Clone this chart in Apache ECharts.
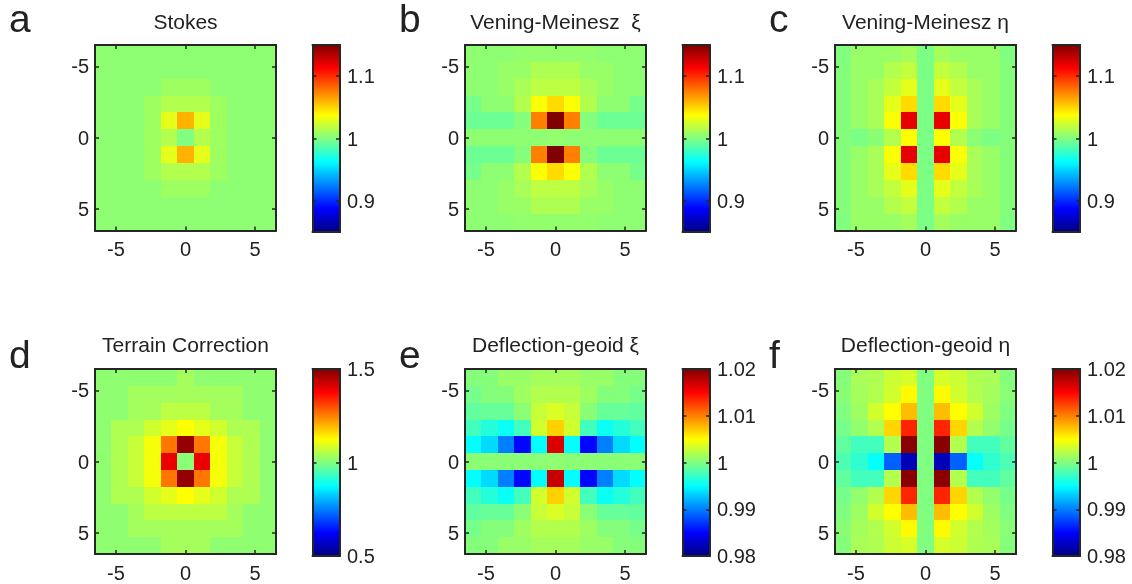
<!DOCTYPE html>
<html>
<head>
<meta charset="utf-8">
<style>html,body{margin:0;padding:0;background:#fff}#c{width:1132px;height:584px;filter:blur(0.45px)}</style>
<script src="https://cdn.jsdelivr.net/npm/echarts@6/dist/echarts.min.js"></script>
</head>
<body>
<div id="c"></div>
<script>
const cellCenters = [-5.91,-4.73,-3.55,-2.36,-1.18,0,1.18,2.36,3.55,4.73,5.91];
const axisTicks = [-5,0,5];
const jet = ['#000080','#0000ff','#0080ff','#00ffff','#80ff80','#ffff00','#ff8000','#ff0000','#800000'];

const titles = ['Stokes','Vening-Meinesz  \u03be','Vening-Meinesz \u03b7','Terrain Correction','Deflection-geoid \u03be','Deflection-geoid \u03b7'];
const letters = ['a','b','c','d','e','f'];
const rangesMin = [0.85,0.85,0.85,0.5,0.98,0.98];
const rangesMax = [1.15,1.15,1.15,1.5,1.02,1.02];
const barTicks123 = [0.9,1,1.1];
const barTicks4 = [0.5,1,1.5];
const barTicks56 = [0.98,0.99,1,1.01,1.02];

const B = 1.004;
const stokes = [
[B,B,B,B,B,B,B,B,B,B,B],
[B,B,B,B,B,B,B,B,B,B,B],
[B,B,B,B,1.009,1.009,1.009,B,B,B,B],
[B,B,B,1.009,1.015,1.015,1.015,1.009,B,B,B],
[B,B,B,1.009,1.03,1.06,1.03,1.009,B,B,B],
[B,B,B,1.009,1.015,1.0,1.015,1.009,B,B,B],
[B,B,B,1.009,1.03,1.06,1.03,1.009,B,B,B],
[B,B,B,1.009,1.015,1.015,1.015,1.009,B,B,B],
[B,B,B,B,1.009,1.009,1.009,B,B,B,B],
[B,B,B,B,B,B,B,B,B,B,B],
[B,B,B,B,B,B,B,B,B,B,B]];
const veningXi = [
[B,B,B,1.006,1.006,1.006,1.006,1.006,B,B,B],
[B,B,1.0075,1.0075,1.0135,1.0135,1.0135,1.0075,1.0075,B,B],
[B,B,1.0075,1.012,1.018,1.018,1.018,1.012,1.0075,B,B],
[0.997,B,B,1.015,1.036,1.048,1.036,1.015,B,B,0.997],
[0.994,0.994,0.994,1.0015,1.075,1.15,1.075,1.0015,0.994,0.994,0.994],
[B,B,B,B,B,1.006,B,B,B,B,B],
[0.994,0.994,0.994,1.0015,1.075,1.15,1.075,1.0015,0.994,0.994,0.994],
[0.997,B,B,1.015,1.036,1.048,1.036,1.015,B,B,0.997],
[B,B,1.0075,1.012,1.018,1.018,1.018,1.012,1.0075,B,B],
[B,B,1.0075,1.0075,1.0135,1.0135,1.0135,1.0075,1.0075,B,B],
[B,B,B,1.006,1.006,1.006,1.006,1.006,B,B,B]];
const veningEta = [
[1.0,1.0075,1.0075,1.0075,1.0105,0.9985,1.0105,1.0075,1.0075,1.0075,1.0],
[1.0015,1.0075,1.0075,1.015,1.0195,0.9985,1.0195,1.015,1.0075,1.0075,1.0015],
[1.0015,1.0075,1.012,1.0195,1.03,0.9985,1.03,1.0195,1.012,1.0075,1.0015],
[1.0015,1.0075,1.012,1.03,1.048,0.9985,1.048,1.03,1.012,1.0075,1.0015],
[1.0015,1.0075,1.012,1.036,1.12,0.9985,1.12,1.036,1.012,1.0075,1.0015],
[1.0015,0.9985,1.003,1.015,1.0375,0.9985,1.0375,1.015,1.003,0.9985,1.0015],
[1.0015,1.0075,1.012,1.036,1.12,0.9985,1.12,1.036,1.012,1.0075,1.0015],
[1.0015,1.0075,1.012,1.03,1.048,0.9985,1.048,1.03,1.012,1.0075,1.0015],
[1.0015,1.0075,1.012,1.0195,1.03,0.9985,1.03,1.0195,1.012,1.0075,1.0015],
[1.0015,1.0075,1.0075,1.015,1.0195,0.9985,1.0195,1.015,1.0075,1.0075,1.0015],
[1.0,1.0075,1.0075,1.0075,1.0105,0.9985,1.0105,1.0075,1.0075,1.0075,1.0]];
const terrain = [
[1.015,1.015,1.015,1.015,1.015,1.035,1.015,1.015,1.015,1.015,1.015],
[1.015,1.015,1.035,1.035,1.035,1.035,1.035,1.035,1.035,1.015,1.015],
[1.015,1.015,1.035,1.035,1.06,1.06,1.06,1.035,1.035,1.015,1.015],
[1.015,1.045,1.045,1.08,1.10,1.125,1.10,1.08,1.045,1.045,1.015],
[1.015,1.045,1.07,1.115,1.26,1.48,1.26,1.115,1.07,1.045,1.015],
[1.015,1.045,1.07,1.115,1.395,1.01,1.395,1.115,1.07,1.045,1.015],
[1.015,1.045,1.07,1.115,1.26,1.48,1.26,1.115,1.07,1.045,1.015],
[1.015,1.045,1.045,1.08,1.10,1.125,1.10,1.08,1.045,1.045,1.015],
[1.015,1.015,1.035,1.06,1.06,1.06,1.06,1.06,1.035,1.015,1.015],
[1.015,1.015,1.035,1.035,1.035,1.035,1.035,1.035,1.035,1.015,1.015],
[1.015,1.015,1.015,1.015,1.035,1.035,1.035,1.015,1.015,1.015,1.015]];
const deflXi = [
[1.0002,1.0002,1.001,1.001,1.0014,1.0014,1.0014,1.001,1.001,1.0002,1.0002],
[0.9996,1.0002,1.0002,1.0012,1.002,1.002,1.002,1.0012,1.0002,1.0002,0.9996],
[0.9988,0.999,0.999,1.0004,1.0028,1.0036,1.0028,1.0004,0.999,0.999,0.9988],
[0.9976,0.9964,0.9954,0.9976,1.0032,1.0068,1.0032,0.9976,0.9954,0.9964,0.9976],
[0.995,0.9936,0.99,0.9852,0.995,1.0164,0.995,0.9852,0.99,0.9936,0.995],
[1.0004,1.0004,1.0004,1.0004,1.0004,1.0006,1.0004,1.0004,1.0004,1.0004,1.0004],
[0.995,0.9936,0.99,0.9852,0.995,1.0172,0.995,0.9852,0.99,0.9936,0.995],
[0.9976,0.9964,0.9954,0.9976,1.0032,1.0068,1.0032,0.9976,0.9954,0.9964,0.9976],
[0.9988,0.999,0.999,1.0004,1.0028,1.0036,1.0028,1.0004,0.999,0.999,0.9988],
[0.9996,1.0002,1.0002,1.0012,1.002,1.002,1.002,1.0012,1.0002,1.0002,0.9996],
[1.0002,1.0002,1.001,1.001,1.0014,1.0014,1.0014,1.001,1.001,1.0002,1.0002]];
const deflEta = [
[1.0002,1.0016,1.0018,1.003,1.0034,1,1.0034,1.003,1.0018,1.0016,1.0002],
[1.0004,1.0014,1.002,1.0032,1.0052,1,1.0052,1.0032,1.002,1.0014,1.0004],
[1,1.0012,1.0032,1.005,1.0076,1,1.0076,1.005,1.0032,1.0012,1],
[0.9996,1.0008,1.002,1.0066,1.0136,1,1.0136,1.0066,1.002,1.0008,0.9996],
[0.9988,0.9976,0.9976,1.002,1.0196,1,1.0196,1.002,0.9976,0.9976,0.9988],
[0.998,0.9968,0.9952,0.9888,0.9822,1,0.9822,0.9888,0.9952,0.9968,0.998],
[0.9988,0.9976,0.9976,1.002,1.0196,1,1.0196,1.002,0.9976,0.9976,0.9988],
[0.9996,1.0008,1.002,1.0066,1.0136,1,1.0136,1.0066,1.002,1.0008,0.9996],
[1,1.0012,1.0032,1.005,1.0076,1,1.0076,1.005,1.0032,1.0012,1],
[1.0004,1.0014,1.002,1.0032,1.0052,1,1.0052,1.0032,1.002,1.0014,1.0004],
[1.0002,1.0016,1.0018,1.003,1.0034,1,1.0034,1.003,1.0018,1.0016,1.0002]];

const panels = [stokes, veningXi, veningEta, terrain, deflXi, deflEta];
const ticksByPanel = [barTicks123, barTicks123, barTicks123, barTicks4, barTicks56, barTicks56];

// layout
const plotLeft = [95,465,835], plotW = 181, plotTop = [45,369], plotH = 185.5;
const barLeft = [312.5,682.5,1052.5], barW = 27.5, barTop = [45,369], barH = 187;
const txt = '#222';
const FONT = '"Liberation Sans", Arial, sans-serif';
const halfCell = 13 / 22;

const chart = echarts.init(document.getElementById('c'), null, {renderer:'canvas'});
const option = {animation:false, backgroundColor:'#fff', title:[], grid:[], xAxis:[], yAxis:[], series:[], visualMap:[]};

function frameAxis(gi, pos, lo, hi, ticks, labels, extra, labelExtra) {
  return Object.assign({
    type:'value', gridIndex:gi, position:pos, min:lo, max:hi, z:10, splitLine:{show:false},
    axisLine:{show:true, onZero:false, lineStyle:{color:'#262626', width:2}},
    axisTick:{show:ticks.length>0, inside:true, length:4, customValues:ticks, lineStyle:{color:'#262626', width:1.5}},
    axisLabel: labels ? Object.assign({show:true, customValues:ticks, color:txt, fontSize:20, fontFamily:FONT, margin:labels}, labelExtra||{}) : {show:false}
  }, extra||{});
}
const shiftDown = {verticalAlign:'top', padding:[-8.5,0,0,0]};

panels.forEach((m,i)=>{
  const col = i%3, row = Math.floor(i/3);
  const gP = option.grid.length;
  option.grid.push({left:plotLeft[col], top:plotTop[row], width:plotW, height:plotH});
  const xA = option.xAxis.length, yA = option.yAxis.length;
  option.xAxis.push(frameAxis(gP,'bottom',-6.5,6.5,axisTicks,10));
  option.xAxis.push(frameAxis(gP,'top',-6.5,6.5,axisTicks,0));
  option.yAxis.push(frameAxis(gP,'left',-6.5,6.5,axisTicks,6,{inverse:true},shiftDown));
  option.yAxis.push(frameAxis(gP,'right',-6.5,6.5,axisTicks,0,{inverse:true}));

  const data = [];
  m.forEach((r,ri)=>r.forEach((v,ci)=>data.push([cellCenters[ci],cellCenters[ri],v])));
  const sIdx = option.series.length;
  option.series.push({
    type:'custom', name:titles[i], xAxisIndex:xA, yAxisIndex:yA, data, clip:true,
    encode:{x:0,y:1,tooltip:2},
    renderItem(params, api){
      const x = api.value(0), y = api.value(1);
      const p0 = api.coord([x-halfCell, y-halfCell]).map(Math.round);
      const p1 = api.coord([x+halfCell, y+halfCell]).map(Math.round);
      // one pixel of overlap: the next cell paints over it, so rounding leaves no seam
      return {type:'rect', shape:{x:p0[0],y:p0[1],width:p1[0]-p0[0]+1,height:p1[1]-p0[1]+1},
        style:{fill:api.visual('color')}};
    }
  });
  option.visualMap.push({
    type:'continuous', seriesIndex:sIdx, dimension:2, min:rangesMin[i], max:rangesMax[i],
    inRange:{color:jet}, left:barLeft[col], top:barTop[row], itemWidth:barW, itemHeight:barH,
    padding:0, calculable:false, text:null, hoverLink:false, orient:'vertical', z:1,
    textStyle:{fontSize:0, color:'transparent'}, formatter:()=>''
  });

  // colour bar frame and its scale
  const gB = option.grid.length;
  option.grid.push({left:barLeft[col], top:barTop[row], width:barW, height:barH});
  option.xAxis.push(frameAxis(gB,'bottom',0,1,[],0));
  option.xAxis.push(frameAxis(gB,'top',0,1,[],0));
  option.yAxis.push(frameAxis(gB,'right',rangesMin[i],rangesMax[i],ticksByPanel[i],7,null,shiftDown));
  option.yAxis.push(frameAxis(gB,'left',rangesMin[i],rangesMax[i],ticksByPanel[i],0));

  option.title.push({text:titles[i], left:plotLeft[col]+plotW/2, top:row?335.5:12.5, textAlign:'center', padding:0,
    textStyle:{fontSize:21, fontWeight:'normal', color:txt, fontFamily:FONT}});
  option.title.push({text:letters[i], left:[9,399,769][col], top:row?338:2, padding:0,
    textStyle:{fontSize:39, fontWeight:'normal', color:txt, fontFamily:FONT}});
});

chart.setOption(option);
</script>
</body>
</html>
